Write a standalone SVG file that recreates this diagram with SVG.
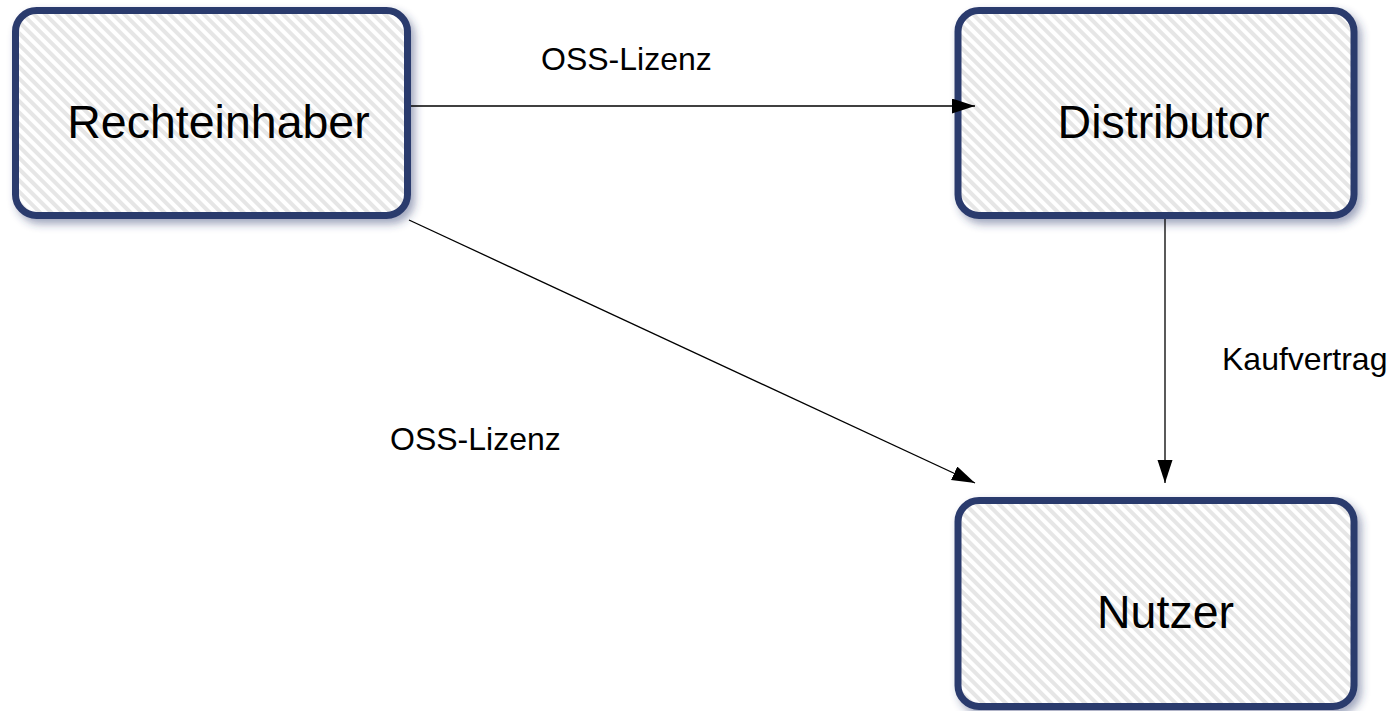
<svg xmlns="http://www.w3.org/2000/svg" width="1392" height="711" viewBox="0 0 1392 711">
  <defs>
    <pattern id="hatch" patternUnits="userSpaceOnUse" width="8" height="8" patternTransform="rotate(45)">
      <rect x="0" y="0" width="8" height="8" fill="#ffffff"/>
      <rect x="0" y="0" width="8" height="4" fill="#e6e6e6"/>
    </pattern>
    <filter id="shadow" x="-10%" y="-10%" width="125%" height="130%">
      <feDropShadow dx="4" dy="5" stdDeviation="4" flood-color="#2c3b6d" flood-opacity="0.45"/>
    </filter>
    <marker id="arrow" markerUnits="userSpaceOnUse" markerWidth="24" markerHeight="16" refX="23" refY="7.5" orient="auto">
      <path d="M0,0 L23,7.5 L0,15 z" fill="#000000"/>
    </marker>
  </defs>
  <style>
    .box { fill: url(#hatch); stroke: #2c3b6d; stroke-width: 7; filter: url(#shadow); }
    .node-label { font-family: "Liberation Sans", Arial, sans-serif; font-size: 46.5px; fill: #000000; text-anchor: middle; }
    .edge-label { font-family: "Liberation Sans", Arial, sans-serif; font-size: 32px; fill: #000000; }
    .edge { stroke: #000000; stroke-width: 1.3; fill: none; marker-end: url(#arrow); }
  </style>
  <rect width="1392" height="711" fill="#ffffff"/>

  <g id="node-rechteinhaber">
    <rect class="box" x="15.5" y="10.5" width="392" height="205" rx="21" ry="21"/>
    <text class="node-label" x="218.5" y="138">Rechteinhaber</text>
  </g>

  <g id="node-distributor">
    <rect class="box" x="958" y="10.5" width="396" height="205" rx="21" ry="21"/>
    <text class="node-label" x="1163.5" y="138">Distributor</text>
  </g>

  <g id="node-nutzer">
    <rect class="box" x="958" y="500.5" width="396" height="206" rx="21" ry="21"/>
    <text class="node-label" x="1165.5" y="628">Nutzer</text>
  </g>

  <g id="connectors">
    <line class="edge" x1="411" y1="106" x2="975" y2="106"/>
    <line class="edge" x1="409" y1="220" x2="975" y2="483"/>
    <line class="edge" x1="1165" y1="219" x2="1165" y2="483"/>
    <text class="edge-label" x="541" y="70">OSS-Lizenz</text>
    <text class="edge-label" x="390" y="450">OSS-Lizenz</text>
    <text class="edge-label" x="1222" y="370">Kaufvertrag</text>
  </g>
</svg>
